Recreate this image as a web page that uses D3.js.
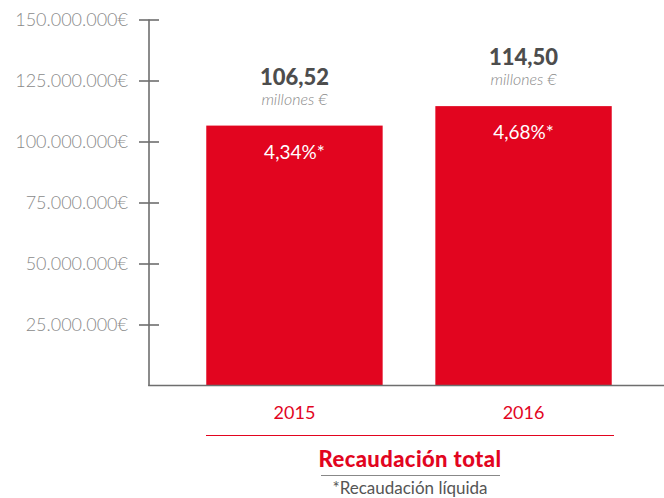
<!DOCTYPE html>
<html><head><meta charset="utf-8">
<script src="https://cdn.jsdelivr.net/npm/d3@7"></script>
<style>body{margin:0;background:#fff}svg{display:block}</style>
</head><body>
<svg id="c" width="664" height="498"></svg>
<script>
const categories = ["2015", "2016"];
const values = [106520000, 114500000];
const valueLabels = ["106,52", "114,50"];
const pctLabels = ["4,34%*", "4,68%*"];
const yTicks = [25000000, 50000000, 75000000, 100000000, 125000000, 150000000];
const tickLabels = ["25.000.000€", "50.000.000€", "75.000.000€", "100.000.000€", "125.000.000€", "150.000.000€"];

const RED = "#e2051f";
const svg = d3.select("#c");
const font = "Lato, 'Open Sans', sans-serif";

const y = d3.scaleLinear().domain([0, 150000000]).range([385.5, 19.5]);
const x = d3.scaleBand().domain(categories).range([149, 669]).paddingInner(0.23).paddingOuter(0.25);

// bars
svg.selectAll("rect.bar").data(values).join("rect")
  .attr("x", (d, i) => x(categories[i]))
  .attr("width", x.bandwidth())
  .attr("y", d => y(d))
  .attr("height", d => y(0) - y(d))
  .attr("fill", RED);

// y axis
const yAxis = d3.axisLeft(y).tickValues(yTicks)
  .tickFormat((d, i) => tickLabels[i]).tickSize(0).tickPadding(21);
const gy = svg.append("g").attr("transform", "translate(149,0)").call(yAxis);
gy.select(".domain").remove();
gy.selectAll("text").attr("font-family", font).attr("font-weight", 300)
  .attr("font-size", 18).attr("fill", "#8a8a8a");
gy.selectAll(".tick").append("line").attr("x1", -10).attr("x2", 10)
  .attr("stroke", "#6e6e6e").attr("stroke-width", 1.6);
// axis lines
svg.append("line").attr("x1", 149).attr("x2", 149).attr("y1", y(150000000)).attr("y2", y(0) + 0.5)
  .attr("stroke", "#6e6e6e").attr("stroke-width", 1.6);
svg.append("line").attr("x1", 148.2).attr("x2", 664).attr("y1", y(0)).attr("y2", y(0))
  .attr("stroke", "#6e6e6e").attr("stroke-width", 1.6);

// x labels
svg.selectAll("text.cat").data(categories).join("text")
  .attr("x", d => x(d) + x.bandwidth() / 2).attr("y", 419)
  .attr("text-anchor", "middle").attr("font-family", font).attr("font-weight", 400)
  .attr("font-size", 18).attr("fill", RED).text(d => d);

// value labels
values.forEach((v, i) => {
  const cx = x(categories[i]) + x.bandwidth() / 2;
  const top = y(v);
  svg.append("text").attr("x", cx).attr("y", top - 41).attr("text-anchor", "middle")
    .attr("font-family", font).attr("font-weight", 900).attr("font-size", 22)
    .attr("fill", "#4d4d4d").text(valueLabels[i]);
  svg.append("text").attr("x", cx).attr("y", top - 21).attr("text-anchor", "middle")
    .attr("font-family", font).attr("font-weight", 300).attr("font-style", "italic")
    .attr("font-size", 16).attr("fill", "#8a8a8a").text("millones €");
  svg.append("text").attr("x", cx).attr("y", top + 33).attr("text-anchor", "middle")
    .attr("font-family", font).attr("font-weight", 400)
    .attr("font-size", 19).attr("fill", "#fff").text(pctLabels[i]);
});

// footer
svg.append("line").attr("x1", 206).attr("x2", 614).attr("y1", 435.5).attr("y2", 435.5)
  .attr("stroke", RED).attr("stroke-width", 1);
svg.append("text").attr("x", 410).attr("y", 467).attr("text-anchor", "middle")
  .attr("font-family", font).attr("font-weight", 900).attr("font-size", 22)
  .attr("letter-spacing", 0.4).attr("fill", RED).text("Recaudación total");
svg.append("line").attr("x1", 321).attr("x2", 500).attr("y1", 475.5).attr("y2", 475.5)
  .attr("stroke", "#888").attr("stroke-width", 1);
svg.append("text").attr("x", 410).attr("y", 494).attr("text-anchor", "middle")
  .attr("font-family", font).attr("font-weight", 400).attr("font-size", 17)
  .attr("fill", "#555").text("*Recaudación líquida");
</script>
</body></html>
